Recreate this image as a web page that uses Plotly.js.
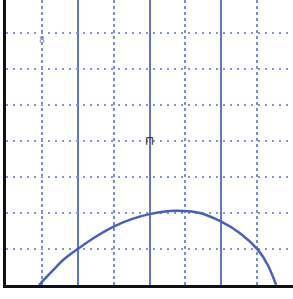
<!DOCTYPE html>
<html>
<head>
<meta charset="utf-8">
<script src="https://cdn.plot.ly/plotly-3.0.1.min.js"></script>
<style>html,body{margin:0;padding:0;background:#fff;}#chart{width:293px;height:299px;}</style>
</head>
<body>
<div id="chart"></div>
<script>
// Curve (grid units)
const curveX = [0.92, 1.3, 1.6, 2.0, 2.5, 3.0, 3.5, 4.0, 4.7, 5.4, 6.0, 6.55, 7.03, 7.3, 7.53];
const curveY = [0.0, 0.4, 0.7, 1.0, 1.34, 1.62, 1.83, 1.97, 2.06, 2.0, 1.76, 1.42, 0.97, 0.55, 0.0];
const markText = ["8", "⊓"];
const markX = [1.0, 4.0];
const markY = [6.8, 4.0];

const trace = {
  x: curveX, y: curveY, type: 'scatter', mode: 'lines',
  line: {color: 'rgb(72,96,182)', width: 2.5, shape: 'spline', smoothing: 1.0},
  hoverinfo: 'skip'
};

const layout = {
  width: 293, height: 299,
  margin: {l: 6, r: 0, t: 0, b: 14},
  paper_bgcolor: '#ffffff', plot_bgcolor: '#ffffff',
  showlegend: false,
  xaxis: {
    range: [0, 8], showticklabels: false, ticks: '', zeroline: false,
    dtick: 2, tick0: 0, showgrid: true, gridcolor: 'rgb(95,118,200)', gridwidth: 2,
    minor: {dtick: 1, tick0: 0, showgrid: true, gridcolor: 'rgb(120,140,210)', gridwidth: 2, griddash: '3px,3px'},
    showline: true, linecolor: '#111', linewidth: 3, mirror: false
  },
  yaxis: {
    range: [0, 7.92], showticklabels: false, ticks: '', zeroline: false,
    dtick: 1, tick0: 0, showgrid: true, gridcolor: 'rgb(130,150,215)', gridwidth: 2, griddash: '2px,5px',
    showline: true, linecolor: '#111', linewidth: 3, mirror: false
  },
  annotations: [
    {x: markX[0], y: markY[0], text: markText[0], showarrow: false, font: {family: 'DejaVu Sans', size: 9, color: 'rgb(120,140,210)'}},
    {x: markX[1], y: markY[1], text: markText[1], showarrow: false, font: {family: 'DejaVu Sans', size: 12, color: '#222'}}
  ]
};

Plotly.newPlot('chart', [trace], layout, {displayModeBar: false, staticPlot: true});
</script>
</body>
</html>
